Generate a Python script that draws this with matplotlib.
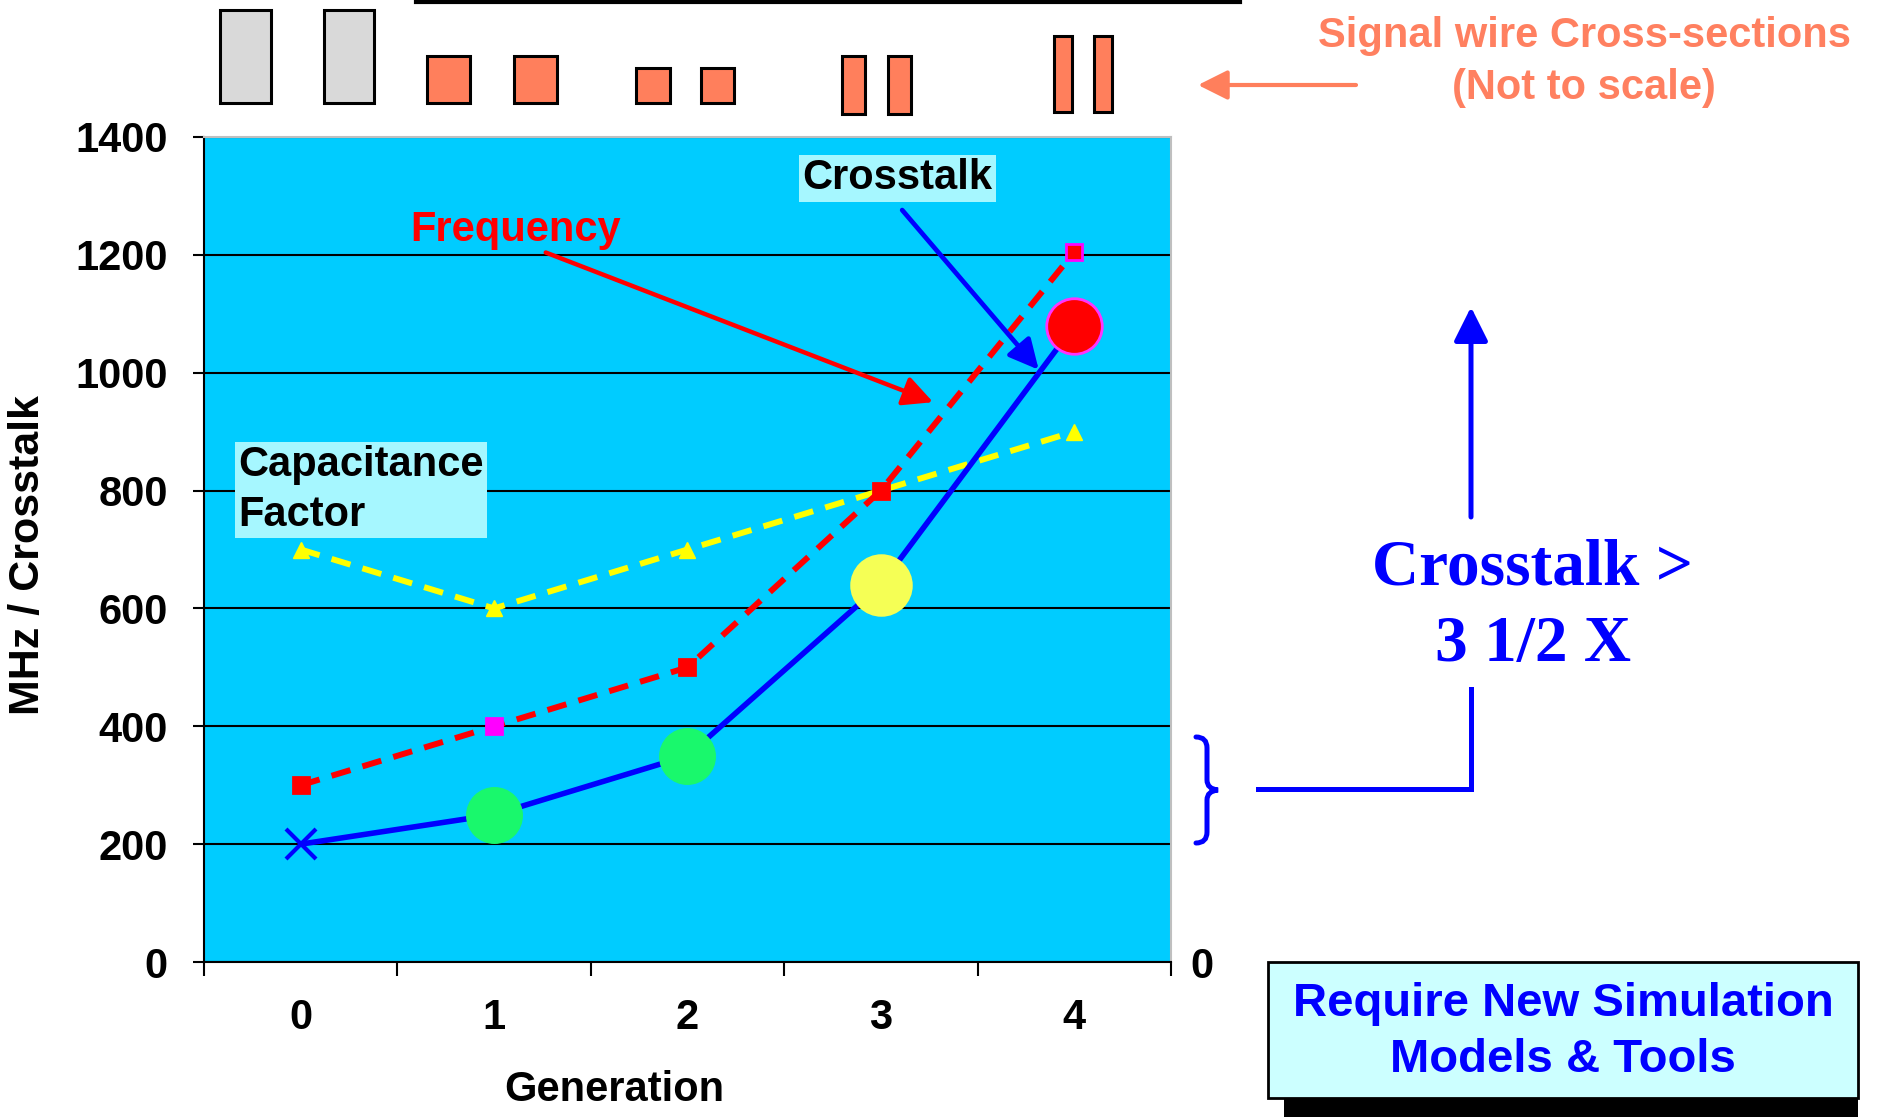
import matplotlib.pyplot as plt
from matplotlib import font_manager
from matplotlib.patches import Rectangle, PathPatch
from matplotlib.path import Path

# chart data
generations = [0, 1, 2, 3, 4]
gen_labels = ['0', '1', '2', '3', '4']
frequency = [300, 400, 500, 800, 1205]
capacitance = [700, 600, 700, 800, 900]
crosstalk = [200, 250, 350, 640, 1080]
y_ticks = [0, 200, 400, 600, 800, 1000, 1200, 1400]

# per-point marker styles
freq_face = ['#FF0000', '#FF00FF', '#FF0000', '#FF0000', '#FF0000']
freq_edge = ['#FF0000', '#FF00FF', '#FF0000', '#FF0000', '#FF00FF']
xt_marker = ['x', 'o', 'o', 'o', 'o']
xt_size = [22, 39, 39, 43, 40]
xt_face = ['#0000FF', '#19F86C', '#19F86C', '#F5FF55', '#FF0000']
xt_edge = ['#0000FF', '#19F86C', '#19F86C', '#F5FF55', '#FF33FF']

# wire cross-section sketch (figure pixels, y from top)
wire_x = [220, 324, 427, 514, 636, 701, 842, 888, 1054, 1094]
wire_w = [51, 50, 43, 43, 34, 33, 23, 23, 18, 18]
wire_top = [10, 10, 56, 56, 68, 68, 56, 56, 36, 36]
wire_bot = [103, 103, 103, 103, 103, 103, 114, 114, 112, 112]
wire_col = ['#D9D9D9'] * 2 + ['#FF7F5C'] * 8

plt.rcParams['font.family'] = ['Liberation Sans', 'DejaVu Sans']
installed = {f.name for f in font_manager.fontManager.ttflist}
if 'Liberation Sans Narrow' in installed:
    ylab_font, ylab_size = 'Liberation Sans Narrow', 36
else:
    ylab_font, ylab_size = 'Liberation Sans', 31

W, H = 1881, 1117
fig = plt.figure(figsize=(W / 100, H / 100), dpi=100)
ax = fig.add_axes([204 / W, 1 - 962 / H, 967 / W, 825 / H])
ax.set_facecolor('#00CCFF')
ax.set_xlim(-0.5, 4.5)
ax.set_ylim(0, 1400)

# series
dash = (0, (3.3, 2.1))
ax.plot(generations, capacitance, color='#FFFF00', lw=4.3, ls=dash, zorder=3)
ax.plot(generations, capacitance, ls='none', marker='^', ms=12, color='#FFFF00', zorder=4)
ax.plot(generations, frequency, color='#FF0000', lw=4.3, ls=dash, zorder=3)
for g, v, fc, ec in zip(generations, frequency, freq_face, freq_edge):
    ax.plot(g, v, marker='s', ms=11, mfc=fc, mec=ec, mew=2, zorder=4)
ax.plot(generations, crosstalk, color='#0000FF', lw=4.0, zorder=3)
for g, v, m, s, fc, ec in zip(generations, crosstalk, xt_marker, xt_size, xt_face, xt_edge):
    ax.plot(g, v, marker=m, ms=s, mfc=fc, mec=ec, mew=3 if m == 'x' else 2, zorder=5)

# axes styling
ax.set_axisbelow(True)
ax.yaxis.grid(True, color='black', lw=1.5)
ax.set_yticks(y_ticks)
ax.set_yticklabels([str(t) for t in y_ticks], fontsize=30, fontweight='bold')
ax.tick_params(axis='y', direction='out', length=8, width=1.5, pad=18)
ax.set_xticks([-0.5, 0.5, 1.5, 2.5, 3.5, 4.5])
ax.set_xticklabels([])
ax.set_xticks(generations, minor=True)
ax.set_xticklabels(gen_labels, minor=True, fontsize=30, fontweight='bold')
ax.tick_params(axis='x', which='major', direction='out', length=10, width=1.5)
ax.tick_params(axis='x', which='minor', length=0, pad=26)
for side in ['left', 'bottom']:
    ax.spines[side].set_color('black')
    ax.spines[side].set_linewidth(1.5)
for side in ['top', 'right']:
    ax.spines[side].set_color('#BFBFBF')
    ax.spines[side].set_linewidth(1.5)

ax.set_xlabel('Generation', fontsize=30, fontweight='bold')
ax.xaxis.set_label_coords(0.424, -0.155)
ax.xaxis.label.set_va('center')
ax.set_ylabel('MHz / Crosstalk', fontsize=ylab_size, fontweight='bold', family=ylab_font)
ax.yaxis.set_label_coords(-0.182, 0.493)
ax.yaxis.label.set_va('center')

ax2 = ax.twinx()
ax2.set_ylim(0, 1400)
ax2.set_yticks([0])
ax2.set_yticklabels(['0'], fontsize=30, fontweight='bold')
ax2.tick_params(axis='y', length=0, pad=14)
for sp in ax2.spines.values():
    sp.set_visible(False)

# in-plot annotations
ax.text(1.112, 1243, 'Frequency', color='#FF0000', fontsize=30, fontweight='bold',
        ha='center', va='center', zorder=7)
ax.annotate('', xy=(3.27, 950), xytext=(1.267, 1204),
            arrowprops=dict(arrowstyle='-|>', color='#FF0000', lw=3.2,
                            mutation_scale=45, shrinkA=0, shrinkB=0), zorder=7)
ax.text(3.085, 1330, 'Crosstalk', color='black', fontsize=30, fontweight='bold',
        ha='center', va='center', zorder=7,
        bbox=dict(boxstyle='square,pad=0.08', fc='#A6F7FF', ec='none'))
ax.annotate('', xy=(3.816, 1005), xytext=(3.11, 1276),
            arrowprops=dict(arrowstyle='-|>', color='#0000FF', lw=3.4,
                            mutation_scale=45, shrinkA=0, shrinkB=0), zorder=7)
ax.text(-0.324, 801, 'Capacitance\nFactor', color='black', fontsize=30, fontweight='bold',
        ha='left', va='center', linespacing=1.32, zorder=7,
        bbox=dict(boxstyle='square,pad=0.08', fc='#A6F7FF', ec='none'))

# overlay in figure pixels
ov = fig.add_axes([0, 0, 1, 1])
ov.set_xlim(0, W)
ov.set_ylim(H, 0)
ov.axis('off')
ov.set_zorder(5)

ov.plot([416, 1240], [1.5, 1.5], color='black', lw=3)
for x0, w, t, b, c in zip(wire_x, wire_w, wire_top, wire_bot, wire_col):
    ov.add_patch(Rectangle((x0, t), w, b - t, fc=c, ec='black', lw=2.2))

ov.annotate('', xy=(1198, 85), xytext=(1356, 85),
            arrowprops=dict(arrowstyle='-|>', color='#FF7F5C', lw=3,
                            mutation_scale=45, shrinkA=0, shrinkB=0))
ov.text(1584, 62, 'Signal wire Cross-sections\n(Not to scale)', color='#FF8060',
        fontsize=30, fontweight='bold', ha='center', va='center', linespacing=1.36)

# brace and ">3.5x" callout
brace = Path([(1196, 737), (1207, 737), (1207, 748), (1207, 780),
              (1207, 789), (1218, 790), (1207, 791), (1207, 800),
              (1207, 832), (1207, 843), (1196, 843)],
             [Path.MOVETO, Path.CURVE3, Path.CURVE3, Path.LINETO,
              Path.CURVE3, Path.CURVE3, Path.CURVE3, Path.CURVE3,
              Path.LINETO, Path.CURVE3, Path.CURVE3])
ov.add_patch(PathPatch(brace, fc='none', ec='#0000FF', lw=3.6, capstyle='round'))
ov.plot([1258, 1471, 1471], [789, 789, 689], color='#0000FF', lw=3.6,
        solid_joinstyle='miter')
ov.annotate('', xy=(1471, 307), xytext=(1471, 517),
            arrowprops=dict(arrowstyle='-|>', color='#0000FF', lw=3.6,
                            mutation_scale=52, shrinkA=0, shrinkB=0))
ov.text(1533, 607, 'Crosstalk >\n3 1/2 X', color='#0000FF', family='Liberation Serif',
        fontsize=47, fontweight='bold', ha='center', va='center', linespacing=1.36)

# bottom box with shadow
ov.add_patch(Rectangle((1284, 980), 574, 160, fc='black', ec='none'))
ov.add_patch(Rectangle((1268, 962), 590, 136, fc='#CCFFFF', ec='black', lw=2))
ov.text(1563, 1032, 'Require New Simulation\nModels & Tools', color='#0000FF',
        fontsize=34, fontweight='bold', ha='center', va='center', linespacing=1.33)

plt.savefig('out.png', dpi=100)
